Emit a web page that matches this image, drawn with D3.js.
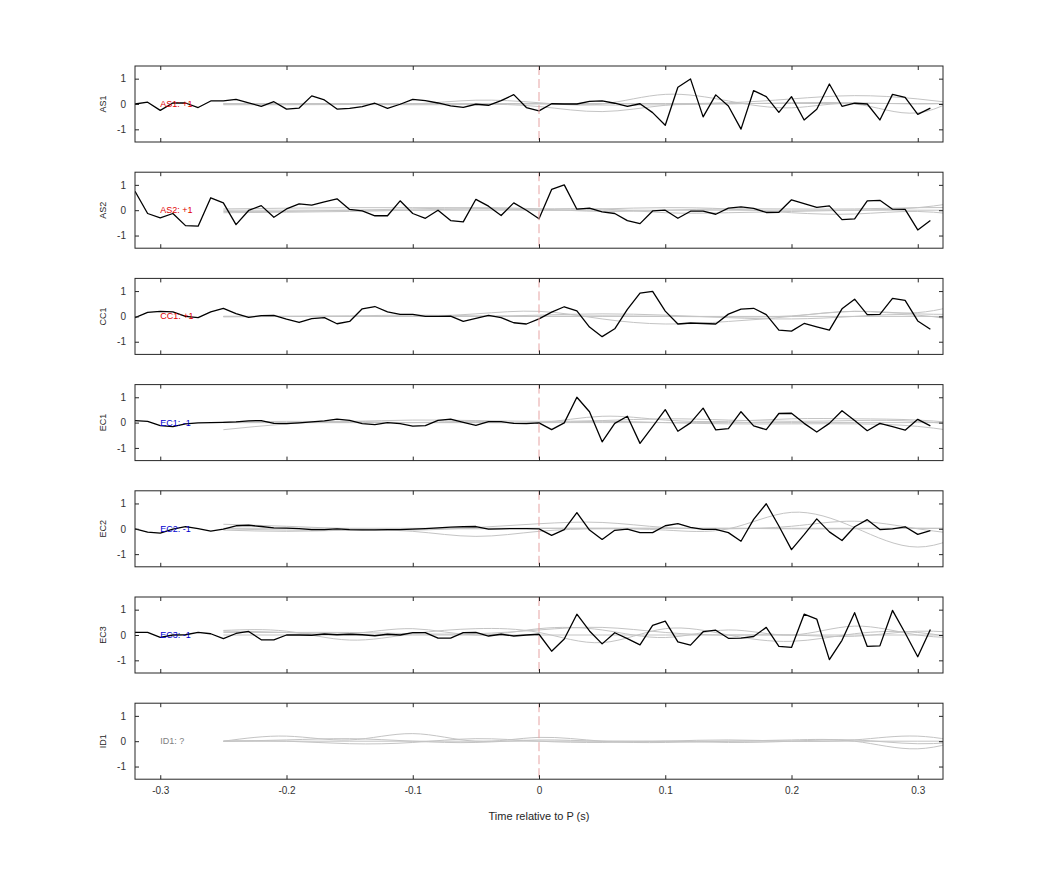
<!DOCTYPE html>
<html><head><meta charset="utf-8">
<script src="https://cdn.jsdelivr.net/npm/d3@7"></script>
<style>body{margin:0;background:#fff}svg{display:block}</style>
</head><body>
<script>
const channels = ["AS1","AS2","CC1","EC1","EC2","EC3","ID1"];
const labels = ["AS1: +1","AS2: +1","CC1: +1","EC1: -1","EC2: -1","EC3: -1","ID1: ?"];
const labelColors = ["#e00000","#e00000","#e00000","#0000d0","#0000d0","#0000d0","#808080"];
const xTicks = [-0.3,-0.2,-0.1,0,0.1,0.2,0.3];
const yTicks = [-1,0,1];
// sample times of black traces (every 10 ms from -0.32 s)
const sampleTimes = d3.range(-32, 32).map(i => i / 100);
// sample times of grey traces
const greyTimes = d3.range(-25, 40, 5).map(i => i / 100);

const AS1 = [0.0,0.07,-0.25,0.04,0.04,-0.14,0.12,0.12,0.18,0.04,-0.09,0.09,-0.2,-0.16,0.32,0.16,-0.2,-0.17,-0.1,0.03,-0.17,-0.01,0.18,0.13,0.04,-0.07,-0.13,-0.01,-0.05,0.13,0.37,-0.14,
  -0.27,0.01,0,0,0.1,0.12,0.03,-0.09,0.01,-0.34,-0.84,0.66,0.99,-0.51,0.36,-0.08,-0.99,0.53,0.29,-0.33,0.29,-0.63,-0.21,0.79,-0.09,0.03,0,-0.63,0.38,0.26,-0.41,-0.16];
const AS2 = [0.75,-0.13,-0.3,-0.13,-0.61,-0.63,0.49,0.29,-0.57,-0.01,0.18,-0.28,0.05,0.25,0.2,0.33,0.45,0.03,-0.03,-0.22,-0.22,0.37,-0.13,-0.32,0,-0.41,-0.46,0.43,0.16,-0.21,0.29,0,
  -0.34,0.82,1.0,0.04,0.08,-0.07,-0.13,-0.41,-0.53,-0.03,0,-0.32,-0.04,-0.04,-0.16,0.08,0.13,0.07,-0.09,-0.08,0.41,0.26,0.11,0.17,-0.37,-0.34,0.37,0.39,0.04,0.03,-0.78,-0.41];
const CC1 = [-0.05,0.16,0.2,0.18,0,-0.05,0.18,0.32,0.11,-0.04,0.03,0.04,-0.11,-0.24,-0.09,-0.05,-0.29,-0.2,0.3,0.39,0.18,0.08,0.08,0,0,0.01,-0.2,-0.08,0.04,-0.05,-0.25,-0.3,
  -0.1,0.17,0.38,0.22,-0.42,-0.8,-0.49,0.28,0.92,0.99,0.21,-0.3,-0.26,-0.28,-0.3,0.09,0.29,0.32,0.07,-0.54,-0.58,-0.28,-0.41,-0.54,0.3,0.68,0.07,0.08,0.71,0.63,-0.18,-0.51];
const EC1 = [0.08,0.05,-0.12,-0.16,-0.05,-0.01,0,0.01,0.03,0.07,0.08,-0.03,-0.04,-0.01,0.03,0.07,0.14,0.09,-0.04,-0.08,0,-0.04,-0.14,-0.12,0.09,0.14,0.01,-0.11,0.04,0.04,-0.03,-0.04,
  -0.01,-0.28,-0.01,1.0,0.43,-0.76,-0.03,0.25,-0.82,-0.16,0.51,-0.34,-0.01,0.57,-0.29,-0.24,0.43,-0.13,-0.28,0.36,0.37,-0.03,-0.37,-0.03,0.47,0.08,-0.32,-0.03,-0.16,-0.3,0.13,-0.13];
const EC2 = [0,-0.13,-0.17,-0.01,0.09,0.01,-0.09,-0.01,0.12,0.14,0.09,0.04,0.03,0.01,-0.03,-0.03,0,-0.03,-0.04,-0.04,-0.03,-0.03,-0.01,0.01,0.04,0.07,0.08,0.09,-0.01,0,0.01,0.01,
  0,-0.26,-0.03,0.64,-0.05,-0.42,-0.06,-0.01,-0.15,-0.15,0.12,0.2,0.06,-0.02,-0.02,-0.15,-0.49,0.37,0.99,0.11,-0.82,-0.23,0.39,-0.12,-0.46,0.08,0.36,-0.03,0,0.08,-0.22,-0.07];
const EC3 = [0.1,0.1,-0.09,0,0.01,0.1,0.05,-0.14,0.06,0.14,-0.19,-0.19,0,0,-0.01,0.04,0.01,0.03,0.01,-0.03,0.03,0,0.09,0.09,-0.12,-0.12,0.09,0.1,-0.04,0.03,-0.04,0,
  0.03,-0.64,-0.16,0.82,0.16,-0.35,0.09,-0.14,-0.39,0.38,0.55,-0.27,-0.4,0.13,0.19,-0.13,-0.12,-0.06,0.3,-0.45,-0.49,0.82,0.63,-0.97,-0.21,0.88,-0.45,-0.43,0.97,0.08,-0.86,0.22];
const ID1 = null;

// grey reference traces, per channel
const AS1_grey = [
  [0.02,0.02,0.02,0.02,0.02,0.02,0.02,0.02,0.02,0.02,0.02,0.02,0.02],
  [0,0,0,0,0.15,0.05,0.0,0.38,0.12,-0.15,0.0,-0.35,0.8],
  [0,0,0,0,0,-0.1,-0.3,-0.05,0.05,0.2,0.33,0.2,-0.1],
  [-0.03,-0.03,-0.02,-0.03,-0.02,0.0,-0.04,-0.03,0.0,0.05,0.05,0.0,0.05]];
const AS2_grey = [
  [0,0,0,0,0,0,0,0,0,0,0,0,0],
  [-0.1,-0.08,-0.05,0,0.05,0.05,0.05,-0.1,-0.1,-0.05,0.0,0.1,0.45],
  [0.05,0.08,0.1,0.1,0.08,0.0,0.05,0.1,0.05,-0.1,-0.15,-0.05,-0.3],
  [-0.05,-0.05,0,0.05,0.1,0.05,-0.05,0,0.05,0.05,0.05,0.1,0.1]];
const CC1_grey = [
  [0,0,0,0,0,0,0,0,0,0,0,0,0],
  [0,0,0,0,0.1,0.2,-0.1,-0.3,-0.2,0,0.2,0.15,0.7],
  [0,0,0,0,0,0.05,0.1,0.05,-0.05,-0.1,0,0.05,-0.35],
  [-0.02,0.0,0.02,0.05,0.02,0.0,0.02,0.0,-0.02,0.02,0.2,0.1,0.1]];
const EC1_grey = [
  [-0.28,-0.05,0.05,0.0,0.05,0.0,0.25,0.1,0.05,0.15,0.15,0.1,-0.1],
  [0,0,0,0,0,0,0.05,0,-0.05,-0.05,-0.05,-0.15,-0.5],
  [0.02,0.05,0.05,0.1,0.08,0.05,0.08,0.15,0.1,0.05,0.08,0.05,-0.2],
  [0,0,0,0,0,0,0,0,0,0,0,0,0]];
const EC2_grey = [
  [0.0,-0.05,-0.05,-0.1,-0.3,-0.1,0.0,-0.05,0.0,0.65,0.05,-0.72,0.1],
  [0.18,0.1,0.0,-0.05,0.05,0.2,0.25,0.05,0.0,0.1,0.3,0.0,-0.3],
  [-0.05,-0.1,-0.05,0,0,0.02,0.02,0.02,0.02,0.0,0.0,0.02,0.0],
  [0.02,0.02,0.02,0.02,0.02,0.02,0.02,0.02,0.02,0.02,0.02,0.02,0.02]];
const EC3_grey = [
  [0.15,0.1,0.05,0.25,0.0,0.25,0.2,-0.1,0.2,0.0,0.35,0.0,-0.1],
  [0.18,0.15,-0.2,0.05,0.25,0.1,-0.3,0.25,0.0,-0.25,0.05,0.1,-0.3],
  [0.1,0.1,0.1,0.05,0.05,0.2,0.3,0.1,0.0,0.0,-0.05,0.15,0.0],
  [0,0,0,0,0,0,0,0,0,0,0,0,0]];
const ID1_grey = [
  [0,0.2,0.05,0.3,0.0,0.15,0.0,-0.05,0.0,0.05,0.0,-0.3,0.3],
  [0,0,-0.1,-0.05,0.1,0.0,-0.05,0.0,0.05,0.0,0.05,0.2,-0.2],
  [0,0,0,0,0,0,0,0,0,0,0,0,0],
  [0.0,0.05,0.1,0.0,-0.05,0.05,0.0,0.0,-0.05,0.0,0.05,-0.1,0.05]];

const blackSeries = [AS1, AS2, CC1, EC1, EC2, EC3, ID1];
const greySeries = [AS1_grey, AS2_grey, CC1_grey, EC1_grey, EC2_grey, EC3_grey, ID1_grey];

const W = 1042, H = 875;
const left = 135, right = 943, top0 = 66, panelH = 76, step = 106.2;
const font = "'Liberation Sans', Arial, Helvetica, sans-serif";
const tickFmt = d => String(d);

const svg = d3.select("body").append("svg").attr("width", W).attr("height", H)
  .style("font-family", font);

const x = d3.scaleLinear().domain([-0.32, 0.32]).range([left, right]);

svg.append("defs").append("clipPath").attr("id", "clipx")
  .append("rect").attr("x", left).attr("y", 0).attr("width", right - left).attr("height", H);

channels.forEach((ch, i) => {
  const t = top0 + i * step;
  const y = d3.scaleLinear().domain([-1.5, 1.5]).range([t + panelH, t]);
  const g = svg.append("g");
  const plot = g.append("g").attr("clip-path", "url(#clipx)");

  const lineG = d3.line().x((d, k) => x(greyTimes[k])).y(d => y(d)).curve(d3.curveNatural);
  greySeries[i].forEach(s => {
    plot.append("path").attr("d", lineG(s)).attr("fill", "none")
      .attr("stroke", "#c4c4c4").attr("stroke-width", 1);
  });

  if (blackSeries[i]) {
    const lineB = d3.line().x((d, k) => x(sampleTimes[k])).y(d => y(d));
    plot.append("path").attr("d", lineB(blackSeries[i])).attr("fill", "none")
      .attr("stroke", "#000").attr("stroke-width", 1.3).attr("stroke-linejoin", "round");
  }

  // event marker at t = 0
  g.append("line").attr("x1", x(0)).attr("x2", x(0)).attr("y1", t).attr("y2", t + panelH)
    .attr("stroke", "#e6a3a3").attr("stroke-width", 1).attr("stroke-dasharray", "9,4");

  // frame
  g.append("rect").attr("x", left).attr("y", t).attr("width", right - left).attr("height", panelH)
    .attr("fill", "none").attr("stroke", "#262626").attr("stroke-width", 1);

  // axes with inward ticks
  const axL = g.append("g").attr("transform", `translate(${left},0)`)
    .call(d3.axisLeft(y).tickValues(yTicks).tickSizeInner(-4).tickSizeOuter(0).tickPadding(9).tickFormat(tickFmt));
  const axR = g.append("g").attr("transform", `translate(${right},0)`)
    .call(d3.axisRight(y).tickValues(yTicks).tickSizeInner(-4).tickSizeOuter(0).tickFormat(""));
  const axB = g.append("g").attr("transform", `translate(0,${t + panelH})`)
    .call(d3.axisBottom(x).tickValues(xTicks).tickSizeInner(-4).tickSizeOuter(0)
      .tickPadding(i === channels.length - 1 ? 8 : 0)
      .tickFormat(i === channels.length - 1 ? tickFmt : ""));
  const axT = g.append("g").attr("transform", `translate(0,${t})`)
    .call(d3.axisTop(x).tickValues(xTicks).tickSizeInner(-4).tickSizeOuter(0).tickFormat(""));
  [axL, axR, axB, axT].forEach(a => {
    a.select(".domain").remove();
    a.selectAll(".tick line").attr("stroke", "#262626");
    a.selectAll(".tick text").attr("fill", "#333").style("font-size", "10px").style("font-family", font);
  });

  // channel label
  g.append("text").attr("transform", `translate(106,${t + panelH / 2}) rotate(-90)`)
    .attr("text-anchor", "middle").style("font-size", "9px").attr("fill", "#262626").text(ch);

  // polarity label
  g.append("text").attr("x", x(-0.3)).attr("y", y(0) + 3)
    .style("font-size", "9px").attr("fill", labelColors[i]).text(labels[i]);
});

svg.append("text").attr("x", x(0)).attr("y", 820).attr("text-anchor", "middle")
  .style("font-size", "11px").attr("fill", "#262626").text("Time relative to P (s)");
</script>
</body></html>
